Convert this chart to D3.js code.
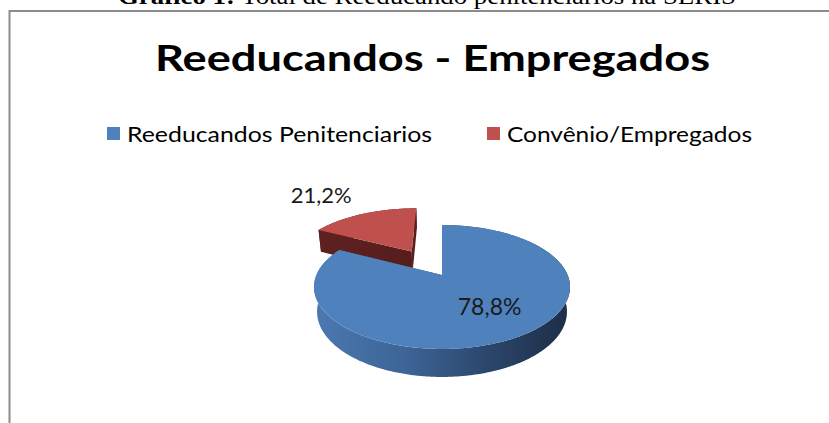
<!DOCTYPE html>
<html><head><meta charset="utf-8">
<script src="https://cdn.jsdelivr.net/npm/d3@7"></script>
<style>html,body{margin:0;padding:0;background:#fff;overflow:hidden}</style>
</head><body>
<svg id="chart" width="829" height="423"></svg>
<script>
// ---- data ----
const captionBold = "Gráfico 1:";
const captionRest = " Total de Reeducando penitenciarios na SERIS";
const chartTitle = "Reeducandos - Empregados";
const categories = ["Reeducandos Penitenciarios", "Convênio/Empregados"];
const values = [78.8, 21.2];
const valueLabels = ["78,8%", "21,2%"];
const colors = ["#4F81BD", "#C0504D"];
const explode = [0, 0.5];

// ---- setup ----
const svg = d3.select("#chart");
const W = 829, H = 423;

// frame (partial border of the embedded chart)
svg.append("line").attr("x1", 9).attr("x2", W).attr("y1", 11).attr("y2", 11)
  .attr("stroke", "#8c8c8c").attr("stroke-width", 2);
svg.append("line").attr("x1", 9.5).attr("x2", 9.5).attr("y1", 10).attr("y2", H)
  .attr("stroke", "#8c8c8c").attr("stroke-width", 2);

// caption (cut at top, as in the source image)
const cap = svg.append("text").attr("x", 118).attr("y", 4)
  .attr("font-family", "'Liberation Serif','Times New Roman',serif")
  .attr("font-size", 24).attr("fill", "#000")
  .attr("textLength", 618).attr("lengthAdjust", "spacingAndGlyphs");
cap.append("tspan").attr("font-weight", "bold").text(captionBold);
cap.append("tspan").text(captionRest);

// title
svg.append("text").attr("x", 155).attr("y", 71)
  .attr("font-family", "Lato, 'Open Sans', sans-serif").attr("font-weight", "bold")
  .attr("font-size", 36).attr("fill", "#000")
  .attr("textLength", 555).attr("lengthAdjust", "spacingAndGlyphs")
  .text(chartTitle);

// legend
const legendX = d3.scaleOrdinal().domain(categories).range([107, 487]);
const legendW = d3.scaleOrdinal().domain(categories).range([305, 245]);
const lg = svg.append("g");
categories.forEach((c, i) => {
  const x = legendX(c);
  lg.append("rect").attr("x", x).attr("y", 127).attr("width", 13).attr("height", 13)
    .attr("fill", colors[i]);
  lg.append("text").attr("x", x + 20).attr("y", 142)
    .attr("font-family", "Lato, 'Open Sans', sans-serif").attr("font-size", 21)
    .attr("fill", "#000")
    .attr("textLength", legendW(c)).attr("lengthAdjust", "spacingAndGlyphs")
    .text(c);
});

// ---- 3D pie projection ----
const cx = 442, cy = 275, Sx = 125.6, Sy = 125.6;
const sinE = 0.475, cosE = 0.88, Dp = 4.55, depth = 0.226;
function proj(x, yd, z) {
  const w = 1 + (yd * cosE - z * sinE) / Dp;
  return [cx + Sx * x / w, cy - Sy * (yd * sinE + z * cosE) / w];
}
const kRatio = Sy * sinE / Sx;
function phiOf(theta) {
  if (theta <= 1e-9) return 0;
  if (theta >= 2 * Math.PI - 1e-9) return 2 * Math.PI;
  let p = Math.atan2(kRatio * Math.sin(theta), Math.cos(theta));
  if (p < 0) p += 2 * Math.PI;
  return p;
}

const pie = d3.pie().sort(null).startAngle(0).endAngle(2 * Math.PI);
const arcs = pie(values).map((a, i) => {
  const p0 = phiOf(a.startAngle), p1 = phiOf(a.endAngle);
  const mid = (p0 + p1) / 2;
  const E = explode[i];
  return { i, p0, p1, mid, ox: E * Math.sin(mid), oy: E * Math.cos(mid) };
});

const line = d3.line();
function rim(s, phi, z) { return proj(s.ox + Math.sin(phi), s.oy + Math.cos(phi), z); }
function arcPts(s, z, rev) {
  const n = Math.max(8, Math.ceil((s.p1 - s.p0) / 0.01));
  const pts = d3.range(n + 1).map(k => rim(s, s.p0 + (s.p1 - s.p0) * k / n, z));
  return rev ? pts.reverse() : pts;
}

const defs = svg.append("defs");
const sideGrad = [
  [["0", "#4b79b1"], ["0.35", "#3d6597"], ["0.7", "#2a4468"], ["1", "#1c2d47"]],
  [["0", "#5e2120"], ["1", "#4a1716"]]
];
sideGrad.forEach((stops, i) => {
  const g = defs.append("linearGradient").attr("id", "side" + i)
    .attr("gradientUnits", "userSpaceOnUse")
    .attr("x1", cx - Sx * 1.03).attr("x2", cx + Sx * 1.03).attr("y1", 0).attr("y2", 0);
  stops.forEach(s => g.append("stop").attr("offset", s[0]).attr("stop-color", s[1]));
});

const pieG = svg.append("g");
// far slices first
const order = arcs.slice().sort((a, b) => b.oy - a.oy);
order.forEach(s => {
  const g = pieG.append("g");
  const bottomZ = -depth;
  g.append("path").attr("d", line(arcPts(s, 0, false).concat(arcPts(s, bottomZ, true))) + "Z")
    .attr("fill", `url(#side${s.i})`);
  [s.p0, s.p1].forEach(phi => {
    const pts = [proj(s.ox, s.oy, 0), rim(s, phi, 0), rim(s, phi, bottomZ), proj(s.ox, s.oy, bottomZ)];
    g.append("path").attr("d", line(pts) + "Z").attr("fill", `url(#side${s.i})`);
  });
  g.append("path").attr("d", line([proj(s.ox, s.oy, 0)].concat(arcPts(s, 0, false))) + "Z")
    .attr("fill", colors[s.i]);
});

// data labels
const labelPos = [
  { r: 0.6, dx: 4, dy: 0 },
  { r: 1.0, dx: -42, dy: -16 }
];
arcs.forEach(s => {
  const lp = labelPos[s.i];
  const p = proj(s.ox + lp.r * Math.sin(s.mid), s.oy + lp.r * Math.cos(s.mid), 0);
  svg.append("text").attr("x", p[0] + lp.dx).attr("y", p[1] + lp.dy)
    .attr("text-anchor", "middle").attr("dominant-baseline", "middle")
    .attr("font-family", "Lato, 'Open Sans', sans-serif").attr("font-size", s.i === 0 ? 23 : 22)
    .attr("fill", "#1a1a1a")
    .text(valueLabels[s.i]);
});
</script>
</body></html>
